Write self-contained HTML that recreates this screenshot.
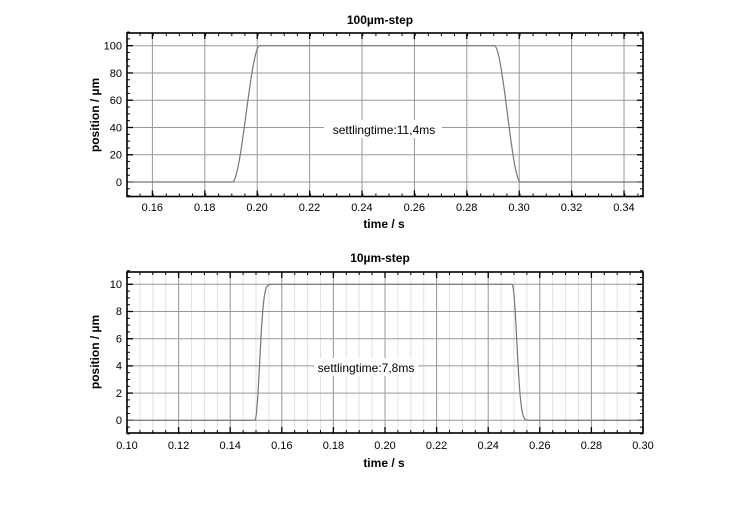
<!DOCTYPE html>
<html><head><meta charset="utf-8"><style>
html,body{margin:0;padding:0;background:#fff;}
svg{display:block;font-family:"Liberation Sans",sans-serif;}
</style></head><body>
<svg id="s" width="750" height="512" viewBox="0 0 750 512" xmlns="http://www.w3.org/2000/svg">
<g id="g1"></g><g id="g2"></g>
<text x="380" y="24" font-size="12" font-weight="bold" text-anchor="middle">100µm-step</text>
<text x="380" y="262" font-size="12" font-weight="bold" text-anchor="middle">10µm-step</text>
<g font-size="11" text-anchor="middle">
<text x="152.3" y="211">0.16</text><text x="204.7" y="211">0.18</text><text x="257.1" y="211">0.20</text><text x="309.5" y="211">0.22</text><text x="361.9" y="211">0.24</text><text x="414.3" y="211">0.26</text><text x="466.7" y="211">0.28</text><text x="519.1" y="211">0.30</text><text x="571.5" y="211">0.32</text><text x="623.9" y="211">0.34</text>
<text x="127" y="449">0.10</text><text x="178.6" y="449">0.12</text><text x="230.2" y="449">0.14</text><text x="281.8" y="449">0.16</text><text x="333.4" y="449">0.18</text><text x="385" y="449">0.20</text><text x="436.6" y="449">0.22</text><text x="488.2" y="449">0.24</text><text x="539.8" y="449">0.26</text><text x="591.4" y="449">0.28</text><text x="643" y="449">0.30</text>
</g>
<g font-size="11" text-anchor="end">
<text x="122" y="186">0</text><text x="122" y="158.7">20</text><text x="122" y="131.5">40</text><text x="122" y="104.2">60</text><text x="122" y="77">80</text><text x="122" y="49.7">100</text>
<text x="122" y="424">0</text><text x="122" y="396.8">2</text><text x="122" y="369.6">4</text><text x="122" y="342.4">6</text><text x="122" y="315.2">8</text><text x="122" y="288">10</text>
</g>
<g font-size="12" font-weight="bold" text-anchor="middle">
<text x="384" y="228">time  / s</text>
<text x="384" y="467">time  / s</text>
<text transform="translate(99,115) rotate(-90)">position / µm</text>
<text transform="translate(99,352) rotate(-90)">position / µm</text>
</g>
<rect x="324" y="120" width="118" height="18" fill="#fff"/>
<text x="384" y="134" font-size="12" text-anchor="middle">settlingtime:11,4ms</text>
<rect x="314" y="358" width="104" height="18" fill="#fff"/>
<text x="366" y="372" font-size="12" text-anchor="middle">settlingtime:7,8ms</text>
</svg>
<script>
var NS="http://www.w3.org/2000/svg";
function el(p,n,a){var e=document.createElementNS(NS,n);for(var k in a)e.setAttribute(k,a[k]);p.appendChild(e);return e;}
function plot(g,L,T,R,B,xf,t0,t1,tm,yf,v0,v1,vmaj,vmin,minorGrid,curve){
  for(var t=t0;t<=t1+1e-9;t+=0.005){var x=xf(t);
    if(minorGrid) el(g,'line',{x1:x,x2:x,y1:T,y2:B,stroke:'#e2e2e2','stroke-width':1});
    el(g,'line',{x1:x,x2:x,y1:B,y2:B-3,stroke:'#000','stroke-width':1});
    el(g,'line',{x1:x,x2:x,y1:T,y2:T+3,stroke:'#000','stroke-width':1});}
  for(var t=tm;t<=t1+1e-9;t+=0.02){var x=xf(t);
    el(g,'line',{x1:x,x2:x,y1:T,y2:B,stroke:'#999','stroke-width':1});
    el(g,'line',{x1:x,x2:x,y1:B,y2:B-6,stroke:'#000','stroke-width':1.3});
    el(g,'line',{x1:x,x2:x,y1:T,y2:T+6,stroke:'#000','stroke-width':1.3});}
  for(var v=v0;v<=v1+1e-9;v+=vmin){var y=yf(v);
    el(g,'line',{x1:L,x2:L+3,y1:y,y2:y,stroke:'#000'});el(g,'line',{x1:R,x2:R-3,y1:y,y2:y,stroke:'#000'});}
  for(var v=0;v<=v1+1e-9;v+=vmaj){var y=yf(v);
    el(g,'line',{x1:L,x2:R,y1:y,y2:y,stroke:'#999','stroke-width':1});
    el(g,'line',{x1:L,x2:L+6,y1:y,y2:y,stroke:'#000','stroke-width':1.3});el(g,'line',{x1:R,x2:R-6,y1:y,y2:y,stroke:'#000','stroke-width':1.3});}
  var d='';for(var i=0;i<=1200;i++){var t=t0+(t1-t0)*i/1200;var x=Math.max(L,Math.min(R,xf(t)));d+=(i?'L':'M')+x.toFixed(2)+','+yf(curve(t)).toFixed(2);}
  el(g,'path',{d:d,fill:'none',stroke:'#777','stroke-width':1.2});
  el(g,'rect',{x:L,y:T,width:R-L,height:B-T,fill:'none',stroke:'#000','stroke-width':1.6});
}
function sm(u){u=Math.max(0,Math.min(1,u));return u*u*(3-2*u);}
function step1(t){var a=0.1905,b=0.201,c=0.2905,d=0.3005;
 if(t<c) return 100*sm((t-a)/(b-a)); return 100*(1-sm((t-c)/(d-c)));}
function rise2(u){u=Math.max(0,u);return 1-Math.exp(-Math.pow(u/0.0025,2.2));}
function step2(t){var r=10*rise2(t-0.1495);if(t<0.2492)return r;return 10*(1-rise2(t-0.2492));}
var g1=document.getElementById('g1'),g2=document.getElementById('g2');
plot(g1,127,33,643,196.5,function(t){return 127+(t-0.1503)*2620;},0.1503,0.347,0.16,function(v){return 182-v*1.363;},-10,110,20,5,false,step1);
plot(g2,127,272,643,433,function(t){return 127+(t-0.10)*2580;},0.10,0.30,0.10,function(v){return 420.3-v*13.6;},-1,11,2,0.5,true,step2);
</script>
</body></html>
